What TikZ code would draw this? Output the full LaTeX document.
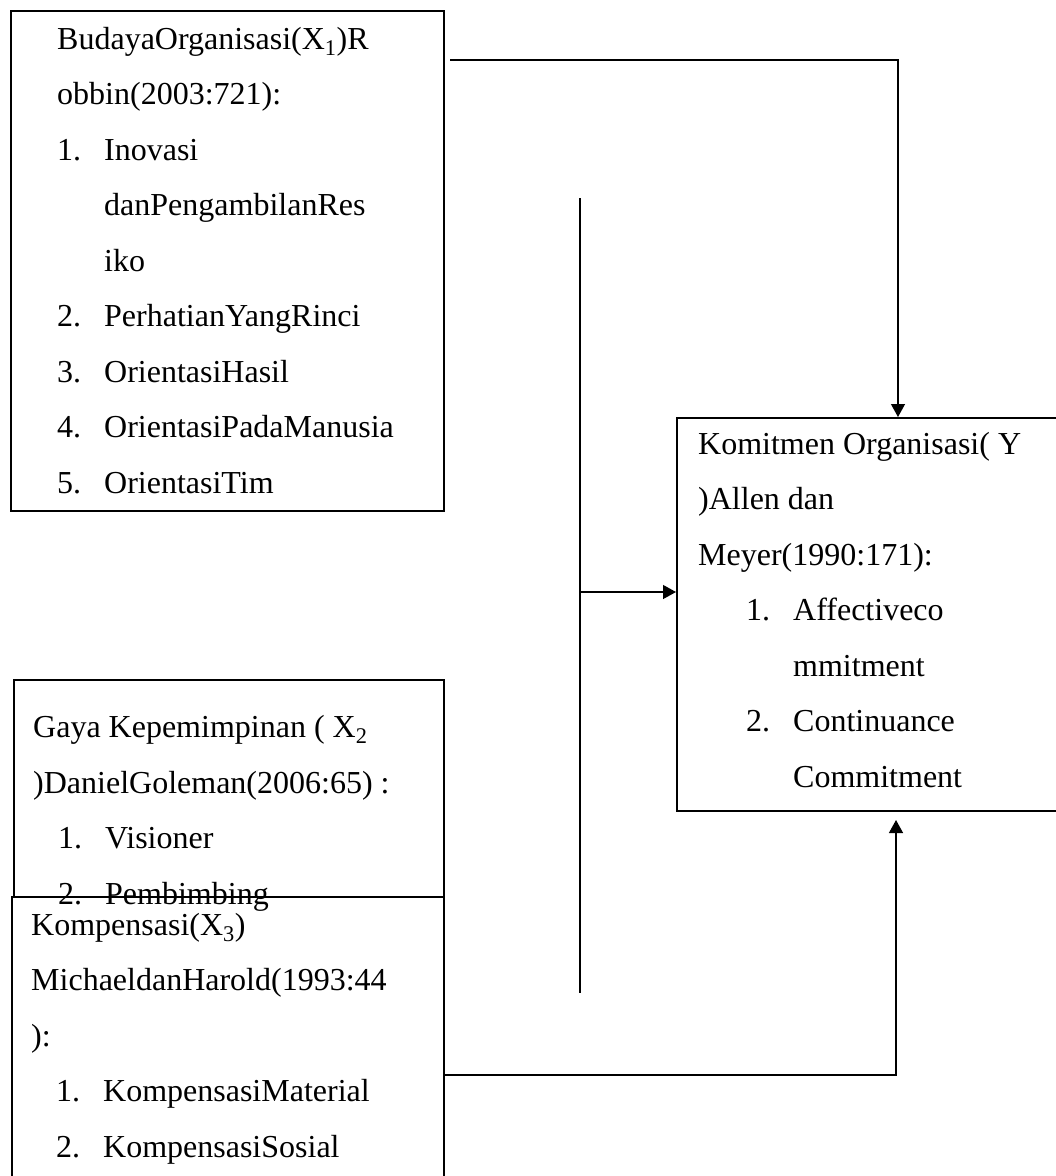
\documentclass[tikz,border=0pt]{standalone}
\usepackage{fontspec}
\setmainfont{Liberation Serif}
\usepackage{tikz}
\usetikzlibrary{arrows.meta}

\newcommand{\nr}[1]{\makebox[47pt][l]{#1}}
\tikzset{
  box/.style={draw, line width=1.8pt, anchor=north west, inner sep=0pt},
  txt/.style={anchor=base west, align=left, inner sep=0pt, font=\fontsize{32}{55.5}\selectfont},
  line/.style={line width=1.3pt},
  link/.style={line width=1.3pt, -{Triangle[length=13pt,width=14pt]}}
}

\begin{document}
\begin{tikzpicture}[x=1pt,y=-1pt]
      \useasboundingbox (0,0) rectangle (1056,1176);
      \clip (0,0) rectangle (1056,1176);
      % Boxes:
      \node[box, minimum width=433pt, minimum height=500pt] (budaya) at (10,10) {};
      \node[box, minimum width=430pt, minimum height=217pt] (gaya) at (13,679) {};
      \node[box, minimum width=432pt, minimum height=320pt] (kompensasi) at (11,896) {};
      \node[box, minimum width=420pt, minimum height=393pt] (komitmen) at (676,417) {};
      % Texts (anchored at the baseline of their last line):
      \node[txt] (budayatxt) at (57,493) {BudayaOrganisasi(X\textsubscript{1})R\\
        obbin(2003:721):\\
        \nr{1.}Inovasi\\
        \hspace*{47pt}danPengambilanRes\\
        \hspace*{47pt}iko\\
        \nr{2.}PerhatianYangRinci\\
        \nr{3.}OrientasiHasil\\
        \nr{4.}OrientasiPadaManusia\\
        \nr{5.}OrientasiTim};
      \node[txt] (gayatxt) at (33,904) {Gaya Kepemimpinan ( X\textsubscript{2}\\
        )DanielGoleman(2006:65) :\\
        \hspace*{25pt}\nr{1.}Visioner\\
        \hspace*{25pt}\nr{2.}Pembimbing};
      \node[txt] (kompensasitxt) at (31,1157) {Kompensasi(X\textsubscript{3})\\
        MichaeldanHarold(1993:44\\
        ):\\
        \hspace*{25pt}\nr{1.}KompensasiMaterial\\
        \hspace*{25pt}\nr{2.}KompensasiSosial};
      \node[txt] (komitmentxt) at (698,787) {Komitmen Organisasi( Y\\
        )Allen dan\\
        Meyer(1990:171):\\
        \hspace*{48pt}\nr{1.}Affectiveco\\
        \hspace*{95pt}mmitment\\
        \hspace*{48pt}\nr{2.}Continuance\\
        \hspace*{95pt}Commitment};
      % Connectors:
      \coordinate (topstart) at (450,60);
      \coordinate (topend) at (898,417);
      \draw[link] (topstart) -| (topend);
      \coordinate (midtop) at (580,198);
      \coordinate (midbot) at (580,993);
      \coordinate (midarr) at (580,592);
      \draw[line] (midtop) -- (midbot);
      \draw[link] (midarr) -- (midarr -| komitmen.west);
      \coordinate (botend) at (896,820);
      \draw[link] (kompensasi.east |- 0,1075) -| (botend);
    \end{tikzpicture}
\end{document}
